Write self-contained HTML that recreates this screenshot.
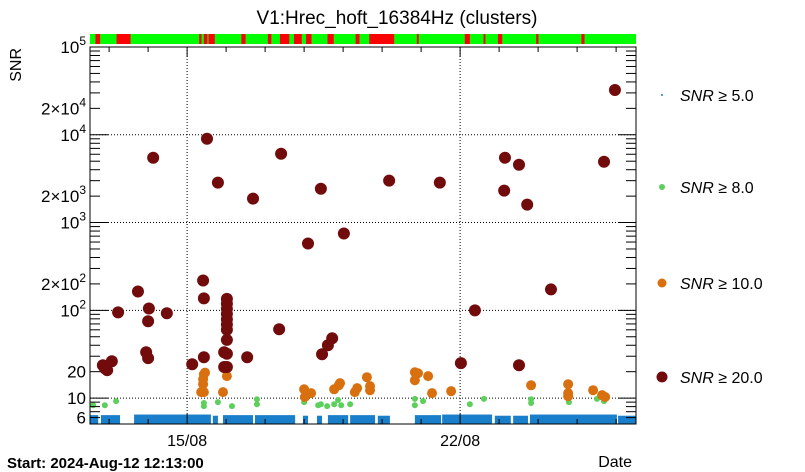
<!DOCTYPE html>
<html><head><meta charset="utf-8"><style>
body{margin:0;background:#fff;}
svg{display:block;font-family:"Liberation Sans",sans-serif;}
</style></head><body>
<svg id="chart" width="805" height="472" viewBox="0 0 805 472"></svg>
<script>
// ---- data ----
const redT=[0.33,0.38,0.44,0.56,0.72,1.23,1.44,1.49,1.49,1.51,1.62,1.97,2.62,2.90,2.92,2.92,3.00,3.28,3.44,3.44,3.51,3.51,3.51,3.51,3.51,3.51,3.51,3.51,3.51,3.51,4.03,4.18,4.85,4.90,5.59,5.92,5.95,6.10,6.21,6.51,7.67,8.97,9.51,9.87,10.62,10.64,11.0,11.0,11.21,11.82,13.18,13.46];
const redV=[23.7,21.9,20.8,26.3,94.8,164,33.3,28.5,75,105,5480,92.5,24.3,219,137,29.2,9010,2850,33.3,22.6,135,119,104,91,79,69,60,46,32,22.6,29.2,1875,60.8,6080,577,2430,31.6,40,48,750,3000,2850,25,100,2310,5480,4560,23.7,1600,173,4930,32400];
const orangeT=[2.92,2.90,2.90,2.92,2.85,2.95,3.41,3.51,5.49,5.51,5.67,6.26,6.38,6.41,6.79,6.85,7.10,7.18,7.18,8.33,8.33,8.41,8.67,8.77,9.26,11.31,12.26,12.26,12.26,12.90,13.13,13.21];
const orangeV=[11.7,14.4,16.4,18.7,11.7,19.5,11.7,17.8,12.6,10.3,11.4,12.6,14,14.8,11.7,13,17.3,13.7,12.3,19.7,16,19.2,17.8,11.4,12,14,14.4,11.4,10.5,12.3,10.8,10.3];
const greenT=[0.08,0.38,0.67,2.92,2.92,3.28,3.64,4.28,4.28,5.49,5.85,5.92,6.08,6.26,6.36,6.44,6.67,8.33,8.33,8.54,9.74,10.10,11.31,11.31,12.28,13.0,13.18];
const greenV=[8.3,8.3,9.25,8.8,8.1,9,8.1,9.7,8.5,9,8.3,8.5,8.1,8.5,9.5,8.3,8.5,9.8,8.3,9.25,8.5,9.8,9.7,8.8,9,9.8,9.25];
const blueStart=[0,0.28,1.13,3.15,3.41,4.23,5.46,5.82,6.10,6.67,7.38,8.33,9.03,10.38,10.85,11.28,13.54];
const blueEnd=[0.21,0.77,3.10,3.28,4.18,5.26,5.59,5.95,6.62,7.31,7.69,9.0,10.31,10.79,11.23,13.51,14.0];
const blueLevel=[6.4,6.4,6.5,6.3,6.4,6.4,6.3,6.3,6.4,6.4,6.3,6.4,6.5,6.3,6.3,6.5,6.3];
// status segments (days) — red = bad
const segStart=[0.14,0.68,2.80,2.92,3.04,3.88,4.56,4.87,5.23,5.54,6.09,6.81,7.16,8.38,9.61,10.09,10.46,11.44,12.60];
const segEnd=[0.26,1.04,2.86,3.01,3.20,3.99,4.65,5.11,5.43,5.68,6.25,6.91,7.80,8.43,9.74,10.14,10.57,11.50,12.68];
const yTickLabels=["10","20","10²","2×10²","10³","2×10³","10⁴","2×10⁴","10⁵"];
const xTickDays=[2.49,9.49];
const xTickLabels=["15/08","22/08"];
</script>
<script>
const svg=document.getElementById('chart');
const NS="http://www.w3.org/2000/svg";
const L=90,R=636,T=47,B=424,DAYS=14,YMIN=Math.log10(5.07),YMAX=5;
const X=t=>L+(t/DAYS)*(R-L);
const Y=v=>B-(Math.log10(v)-YMIN)/(YMAX-YMIN)*(B-T);
function mk(tag,attrs,parent){const e=document.createElementNS(NS,tag);for(const k in attrs)e.setAttribute(k,attrs[k]);(parent||svg).appendChild(e);return e;}
function txt(s,x,y,size,anchor,extra){const e=mk('text',Object.assign({x:x,y:y,'font-size':size,'text-anchor':anchor||'start',fill:'#000'},extra||{}));e.textContent=s;return e;}

let e;
e=txt("V1:Hrec_hoft_16384Hz (clusters)",397,24,19,'middle');


e=txt("SNR",21,48,16,'end',{transform:'rotate(-90 21 48)'});


e=txt("Start: 2024-Aug-12 12:13:00",7,468,15,'start',{'font-weight':'bold'});


e=txt("Date",632,467,16,'end');



// status bar
e=mk('rect',{x:L,y:34,width:R-L,height:10,fill:'#00ff00'});


for(let i=0;i<segStart.length;i++){
  e=mk('rect',{x:X(segStart[i]),y:34,width:Math.max(1.5,X(segEnd[i])-X(segStart[i])),height:10,fill:'#ff0000'});
  
  
}

// grid
[10,100,1000,10000].forEach(v=>{
  e=mk('line',{x1:L,x2:R,y1:Y(v),y2:Y(v),stroke:'#000','stroke-dasharray':'1,2','stroke-width':1});
  
  
});
xTickDays.forEach(d=>{
  e=mk('line',{x1:X(d),x2:X(d),y1:T,y2:B,stroke:'#000','stroke-dasharray':'1,2','stroke-width':1});
  
  
});

// blue band
for(let i=0;i<blueStart.length;i++){
  e=mk('rect',{x:X(blueStart[i]),y:Y(blueLevel[i]),width:X(blueEnd[i])-X(blueStart[i]),height:B-Y(blueLevel[i]),fill:'#1a7fca'});
  
  
}
function dots(ts,vs,r,col,name){
  for(let i=0;i<ts.length;i++){
    const c=mk('circle',{cx:X(ts[i]),cy:Y(vs[i]),r:r,fill:col});
    
    
  }
}
dots(greenT,greenV,3,'#5ccf5c','snr8-point');
dots(orangeT,orangeV,5,'#d9700f','snr10-point');
dots(redT,redV,6,'#720b0b','snr20-point');

// frame
e=mk('rect',{x:L,y:T,width:R-L,height:B-T,fill:'none',stroke:'#000','stroke-width':1});



// y ticks
for(let d=0;d<=5;d++){
  for(let m=1;m<10;m++){
    const v=m*Math.pow(10,d);
    if(v<5.07||v>100000)continue;
    const len=m===1?18:10;
    mk('line',{x1:L,x2:L+len,y1:Y(v),y2:Y(v),stroke:'#000'});
    mk('line',{x1:R,x2:R-len,y1:Y(v),y2:Y(v),stroke:'#000'});
  }
}
const yLabelVals=[10,20,100,200,1000,2000,10000,20000,100000];
const supMap={'²':'2','³':'3','⁴':'4','⁵':'5'};
yLabelVals.forEach((v,i)=>{
  const s=yTickLabels[i];
  let t;
  const last=s.slice(-1);
  if(supMap[last]){
    t=mk('text',{x:86,y:Y(v)+6,'font-size':17,'text-anchor':'end'});
    const a=mk('tspan',{},t);a.textContent=s.slice(0,-1);
    const b=mk('tspan',{dy:-8,'font-size':12},t);b.textContent=supMap[last];
  } else {
    t=txt(s,86,Y(v)+6,17,'end');
  }
  
  
});
e=txt("6",86,Y(6)+6,17,'end');



// x ticks
for(let d=0.49;d<14;d+=1){
  const major=xTickDays.some(x=>Math.abs(x-d)<0.01);
  const len=major?10:5;
  mk('line',{x1:X(d),x2:X(d),y1:B,y2:B-len,stroke:'#000'});
  mk('line',{x1:X(d),x2:X(d),y1:T,y2:T+len,stroke:'#000'});
}
xTickDays.forEach((d,i)=>{
  e=txt(xTickLabels[i],X(d),446,16,'middle');
  
  
});

// legend
const legY=[95,187,283,377],legC=['#1a7fca','#5ccf5c','#d9700f','#720b0b'],legR=[1,3,4.5,5.5],legT=['5.0','8.0','10.0','20.0'];
for(let i=0;i<4;i++){
  const g=mk('g',{});
  
  
  mk('circle',{cx:662,cy:legY[i],r:legR[i],fill:legC[i]},g);
  const t=mk('text',{x:680,y:legY[i]+6,'font-size':16},g);
  const a=mk('tspan',{'font-style':'italic'},t);a.textContent='SNR';
  const b=mk('tspan',{},t);b.textContent=' ≥ '+legT[i];
}
</script>
</body></html>
